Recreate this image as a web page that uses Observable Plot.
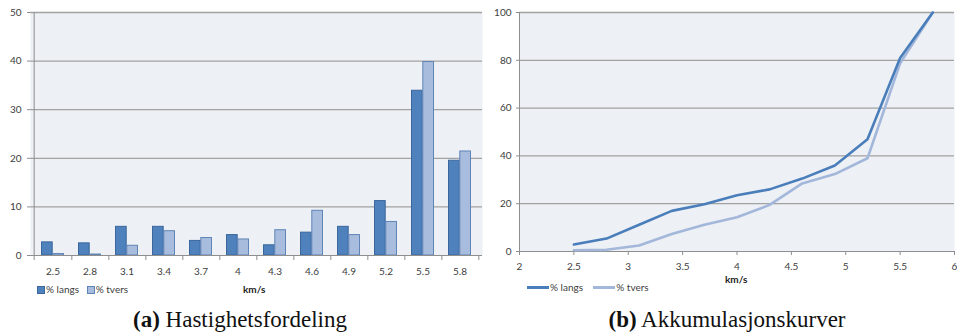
<!DOCTYPE html>
<html><head><meta charset="utf-8">
<script src="https://cdn.jsdelivr.net/npm/d3@7"></script>
<script src="https://cdn.jsdelivr.net/npm/@observablehq/plot@0.6"></script>
<style>
body{margin:0;background:#fff;}
#wrap{position:relative;width:957px;height:336px;overflow:hidden;font-family:Lato,sans-serif;color:#404040;}
.chart{position:absolute;top:0;}
.lg{position:absolute;font-size:10px;line-height:10px;white-space:nowrap;}
.sw{display:inline-block;width:6px;height:6px;border:1px solid;vertical-align:-1px;margin-right:1px;}
.ln{display:inline-block;width:22px;height:3px;vertical-align:2px;margin-right:1px;}
.unit{position:absolute;font-size:10px;font-weight:bold;color:#222;line-height:10px;}
.cap{position:absolute;top:308px;font-family:"Liberation Serif",serif;font-size:23px;color:#111;white-space:nowrap;transform:translateX(-50%);line-height:23px;}
</style></head><body>
<div id="wrap">
  <div id="left" class="chart" style="left:0"></div>
  <div id="right" class="chart" style="left:484px"></div>
  <div class="lg" style="left:37px;top:284px"><span class="sw" style="background:#4F81BD;border-color:#3B679C"></span>% langs &nbsp;&nbsp;<span class="sw" style="background:#A8BDDE;border-color:#5F84B6"></span>% tvers</div>
  <div class="unit" style="left:243px;top:284px">km/s</div>
  <div class="lg" style="left:527px;top:282px"><span class="ln" style="background:#4A7EBB"></span>% langs &nbsp;&nbsp;&nbsp;<span class="ln" style="background:#A3B7DA"></span>% tvers</div>
  <div class="unit" style="left:725px;top:274px">km/s</div>
  <div class="cap" style="left:240px"><b>(a)</b> Hastighetsfordeling</div>
  <div class="cap" style="left:727px"><b>(b)</b> Akkumulasjonskurver</div>
</div>
<script>
// Chart (a): velocity distribution (%)
const categories = ["2.5","2.8","3.1","3.4","3.7","4","4.3","4.6","4.9","5.2","5.5","5.8"];
const langs = [2.7, 2.5, 5.9, 5.9, 3.0, 4.2, 2.1, 4.7, 5.9, 11.2, 33.9, 19.5];
const tvers = [0.3, 0.2, 2.0, 5.0, 3.6, 3.3, 5.2, 9.2, 4.2, 6.9, 39.8, 21.4];
const yTicksA = [0, 10, 20, 30, 40, 50];

// Chart (b): cumulative curves (%)
const speeds = [2.5, 2.8, 3.1, 3.4, 3.7, 4.0, 4.3, 4.6, 4.9, 5.2, 5.5, 5.8];
const cumLangs = [2.9, 5.4, 11.2, 17.0, 19.8, 23.5, 26.0, 30.5, 36.0, 47.0, 81.0, 100];
const cumTvers = [0.5, 0.7, 2.5, 7.3, 11.2, 14.3, 19.5, 28.5, 32.4, 39.0, 78.7, 100];
const yTicksB = [0, 20, 40, 60, 80, 100];
const xTicksB = [2, 2.5, 3, 3.5, 4, 4.5, 5, 5.5, 6];

const AXIS = "#8E8E8E", GRID = "#A2A2A2", BG = "#EDF0F5";

const barData = categories.map((c, i) => ({cat: c, langs: langs[i], tvers: tvers[i]}));
const W1 = 484, mL1 = 30, mR1 = 2;
const bw = (W1 - mL1 - mR1) / categories.length;

const left = Plot.plot({
  width: W1, height: 300, marginLeft: mL1, marginRight: mR1, marginTop: 12, marginBottom: 45,
  style: {fontFamily: "Lato, sans-serif", fontSize: "10px", color: "#404040", background: "transparent", overflow: "visible"},
  x: {domain: categories, padding: 0},
  y: {domain: [0, 50]},
  marks: [
    Plot.frame({fill: BG, stroke: null}),
    Plot.gridY(yTicksA.filter(v => v > 0), {stroke: GRID, strokeOpacity: 1, strokeWidth: 1.3}),
    Plot.barY(barData, {x: "cat", y: "langs", fill: "#4F81BD", stroke: "#3B679C", insetLeft: 7.5, insetRight: 18.8}),
    Plot.barY(barData, {x: "cat", y: "tvers", fill: "#A8BDDE", stroke: "#5F84B6", insetLeft: 18.8, insetRight: 7.5}),
    Plot.ruleY([0], {stroke: AXIS}),
    Plot.ruleX([categories[0]], {dx: -bw / 2, stroke: AXIS, insetBottom: -5}),
    Plot.axisY({ticks: yTicksA, tickSize: 3, tickPadding: 6, stroke: AXIS, label: null}),
    Plot.axisX({tickSize: 0, tickPadding: 12, label: null}),
    Plot.axisX({tickSize: 5, tickPadding: 0, tickFormat: () => "", dx: bw / 2, stroke: AXIS, label: null})
  ]
});
document.getElementById("left").appendChild(left);

const lineLangs = speeds.map((s, i) => ({s, v: cumLangs[i]}));
const lineTvers = speeds.map((s, i) => ({s, v: cumTvers[i]}));

const right = Plot.plot({
  width: 473, height: 300, marginLeft: 35, marginRight: 3, marginTop: 12, marginBottom: 49,
  style: {fontFamily: "Lato, sans-serif", fontSize: "10px", color: "#404040", background: "transparent", overflow: "visible"},
  x: {domain: [2, 6]},
  y: {domain: [0, 100]},
  marks: [
    Plot.frame({fill: BG, stroke: null}),
    Plot.gridY(yTicksB.filter(v => v > 0), {stroke: GRID, strokeOpacity: 1, strokeWidth: 1.3}),
    Plot.ruleY([0], {stroke: AXIS}),
    Plot.ruleX([2], {stroke: AXIS}),
    Plot.line(lineTvers, {x: "s", y: "v", stroke: "#A3B7DA", strokeWidth: 2.6}),
    Plot.line(lineLangs, {x: "s", y: "v", stroke: "#4A7EBB", strokeWidth: 2.6}),
    Plot.axisY({ticks: yTicksB, tickSize: 3, tickPadding: 5, stroke: AXIS, label: null}),
    Plot.axisX({ticks: xTicksB, tickFormat: d3.format("~g"), tickSize: 4, tickPadding: 7, stroke: AXIS, label: null})
  ]
});
document.getElementById("right").appendChild(right);
</script>
</body></html>
